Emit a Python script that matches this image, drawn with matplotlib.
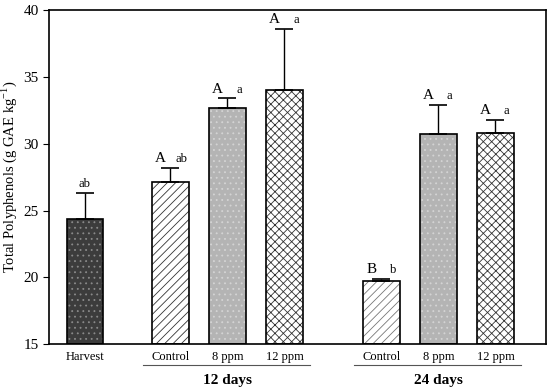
import matplotlib.pyplot as plt

plt.rcParams['font.family'] = ['Liberation Serif', 'DejaVu Serif']
plt.rcParams['hatch.linewidth'] = 0.6

labels = ['Harvest', 'Control', '8 ppm', '12 ppm', 'Control', '8 ppm', '12 ppm']
positions = [0, 1.5, 2.5, 3.5, 5.2, 6.2, 7.2]
means = [24.4, 27.1, 32.7, 34.0, 19.7, 30.7, 30.8]
errors = [1.9, 1.1, 0.7, 4.6, 0.2, 2.2, 1.0]
upper = ['', 'A', 'A', 'A', 'B', 'A', 'A']
lower = ['ab', 'ab', 'a', 'a', 'b', 'a', 'a']
groups = ['12 days', '24 days']

faces = ['#3c3c3c', 'white', '#b4b4b4', 'white', 'white', '#b4b4b4', 'white']
hatches = ['...', '////', '...', 'xxxx', '////', '...', 'xxxx']
hcolors = ['#8a8a8a', '#333333', '#d4d4d4', '#333333', '#777777', '#d4d4d4', '#333333']

fig = plt.figure(figsize=(5.5, 3.91), dpi=100)
ax = fig.add_axes([0.089, 0.12, 0.904, 0.854])

for x, m, f, h, hc in zip(positions, means, faces, hatches, hcolors):
    ax.bar(x, m - 15, bottom=15, width=0.64, color=f, hatch=h, edgecolor=hc, linewidth=0)
    ax.bar(x, m - 15, bottom=15, width=0.64, fill=False, edgecolor='black', linewidth=1.2)

ax.errorbar(positions, means, yerr=[[0] * len(means), errors], fmt='none',
            ecolor='black', elinewidth=1, capsize=6.5, capthick=1.2)

for x, m, e, u, l in zip(positions, means, errors, upper, lower):
    top = m + e + 0.2
    if u:
        ax.text(x - 0.17, top, u, ha='center', va='bottom', fontsize=11)
        ax.text(x + 0.2, top, l, ha='center', va='bottom', fontsize=9)
    else:
        ax.text(x, top, l, ha='center', va='bottom', fontsize=9)

ax.set_xlim(-0.63, 8.09)
ax.set_ylim(15, 40)
ax.set_yticks([15, 20, 25, 30, 35, 40])
ax.set_xticks(positions)
ax.set_xticklabels(labels, fontsize=9)
ax.tick_params(axis='x', length=0, pad=5)
ax.tick_params(axis='y', labelsize=11, direction='out', length=4)
ax.set_ylabel('Total Polyphenols (g GAE kg$^{\\mathregular{-1}}$)', fontsize=10.5, labelpad=3)
for s in ax.spines.values():
    s.set_linewidth(1.2)

# group lines and labels under the axis
for g, (a, b) in zip(groups, [(1.5, 3.5), (5.2, 7.2)]):
    ax.plot([a - 0.48, b + 0.45], [13.45, 13.45], color='#555555', lw=0.8, clip_on=False)
    ax.text((a + b) / 2, 12.3, g, ha='center', va='center', fontsize=11, fontweight='bold')

fig.savefig('out.png', dpi=100)
